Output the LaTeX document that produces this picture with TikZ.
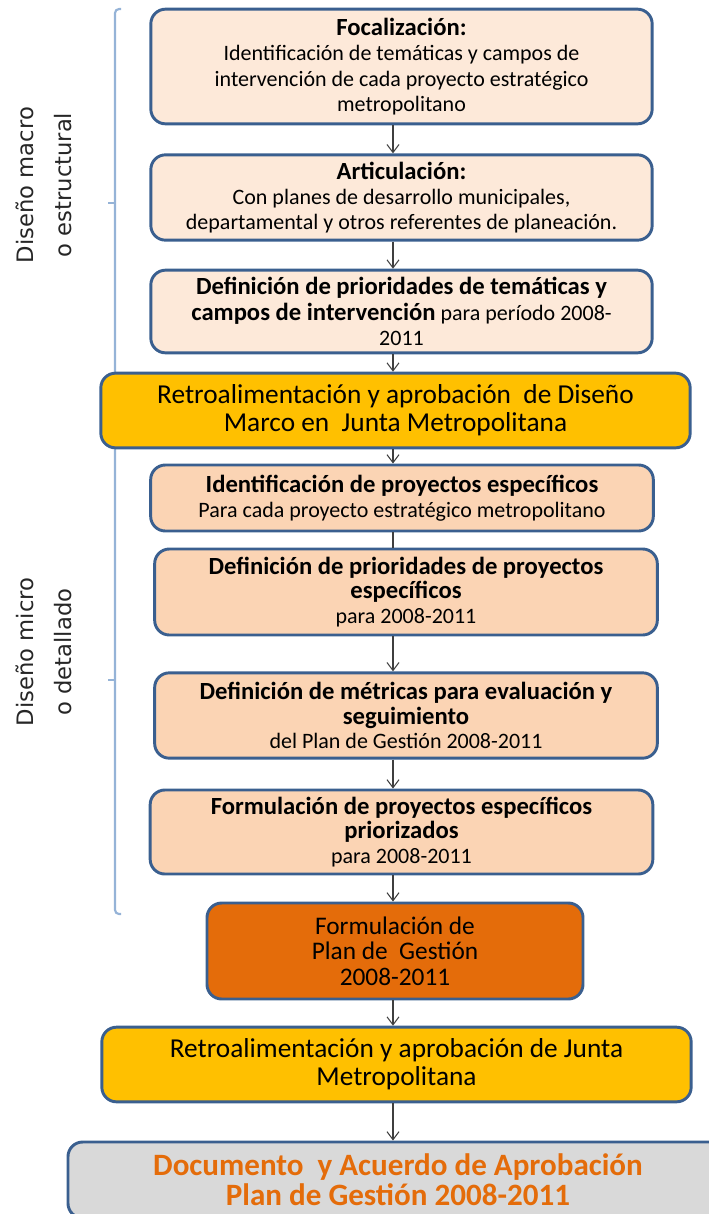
\documentclass[tikz,border=0pt]{standalone}
\usepackage{fontspec}
\setmainfont{Carlito}
\newfontfamily\ladofont{DejaVu Sans}
\usetikzlibrary{arrows.meta}
\definecolor{borde}{HTML}{3A5F8F}
\definecolor{pielclaro}{HTML}{FDE9D9}
\definecolor{piel}{HTML}{FBD4B4}
\definecolor{amarillo}{HTML}{FFC000}
\definecolor{naranja}{HTML}{E46C0A}
\definecolor{gris}{HTML}{D9D9D9}
\definecolor{llave}{HTML}{95B3D7}
\definecolor{flecha}{HTML}{3F3F3F}
\newcommand{\negrita}[1]{{\fontsize{18.5}{19}\selectfont\bfseries #1}}
\begin{document}
\begin{tikzpicture}[x=0.75pt,y=-0.75pt,
 caja/.style={draw=borde,line width=2.2pt,rounded corners=11pt,align=center,inner sep=0pt,text=black},
 fase/.style={caja,fill=pielclaro,minimum width=376pt,font=\fontsize{16.5}{19}\selectfont},
 paso/.style={caja,fill=piel,minimum width=377pt,font=\fontsize{16.5}{18.5}\selectfont},
 junta/.style={caja,fill=amarillo,minimum width=442pt,minimum height=56pt,font=\fontsize{20.5}{21}\selectfont},
 lado/.style={rotate=90,align=center,text=black!85,font=\ladofont\fontsize{17}{28}\selectfont},
 flechas/.style={draw=flecha,line width=0.8pt,-{Straight Barb[length=6pt,width=9pt]}}]
\useasboundingbox (0,0) rectangle (709,1214);
\clip (0,0) rectangle (709,1214);
\coordinate (eje) at (393,0);
\draw[llave,line width=1.6pt,rounded corners=3pt] (121,9) -- (115,9) -- (115,914) -- (121,914);
\draw[llave,line width=1.6pt] (108,203) -- (115,203);
\draw[llave,line width=1.6pt] (108,680) -- (115,680);
\node[lado] (macro) at (44,185) {Diseño macro\\o estructural};
\node[lado] (micro) at (44,652) {Diseño micro\\o detallado};
\node[fase,minimum height=86pt] (focal) at (401.5,66.5) {\negrita{Focalización:}\\Identificación de temáticas y campos de\\intervención de cada proyecto estratégico\\metropolitano};
\node[fase,minimum height=64pt] (artic) at (401.5,197.5) {\negrita{Articulación:}\\Con planes de desarrollo municipales,\\departamental y otros referentes de planeación.};
\node[fase,minimum height=62pt] (priotem) at (401.5,311.5) {\negrita{Definición de prioridades de temáticas y}\\\negrita{campos de intervención} para período 2008-\\2011};
\node[junta] (juntamarco) at (395.5,410.5) {Retroalimentación y aprobación\ \ de Diseño\\Marco en\ \ Junta Metropolitana};
\node[paso,minimum height=49.5pt] (identif) at (402,498) {\negrita{Identificación de proyectos específicos}\\Para cada proyecto estratégico metropolitano};
\node[paso,minimum height=64.5pt] (prioproy) at (406,592) {\negrita{Definición de prioridades de proyectos}\\\negrita{específicos}\\para 2008-2011};
\node[paso,minimum height=64pt] (metricas) at (406,715.5) {\negrita{Definición de métricas para evaluación y}\\\negrita{seguimiento}\\del Plan de Gestión 2008-2011};
\node[paso,minimum height=63pt] (formproy) at (401.5,832) {\negrita{Formulación de proyectos específicos}\\\negrita{priorizados}\\para 2008-2011};
\node[caja,fill=naranja,minimum width=282pt,minimum height=72pt,font=\fontsize{19}{19}\selectfont] (plan) at (395,951) {Formulación de\\Plan de\ \ Gestión\\2008-2011};
\node[junta] (juntafinal) at (396.5,1064.5) {Retroalimentación y aprobación de Junta\\Metropolitana};
\node[caja,fill=gris,minimum width=495pt,minimum height=57pt,text=naranja,font=\bfseries\fontsize{23.3}{22.5}\selectfont] (acuerdo) at (398,1180) {Documento\ \ y Acuerdo de Aprobación\\Plan de Gestión 2008-2011};
\draw[flechas] (focal.south -| eje) -- (artic.north -| eje);
\draw[flechas] (artic.south -| eje) -- (priotem.north -| eje);
\draw[flechas] (priotem.south -| eje) -- (juntamarco.north -| eje);
\draw[flechas] (juntamarco.south -| eje) -- (identif.north -| eje);
\draw[draw=flecha,line width=0.8pt] (identif.south -| eje) -- (prioproy.north -| eje);
\draw[flechas] (prioproy.south -| eje) -- (metricas.north -| eje);
\draw[flechas] (metricas.south -| eje) -- (formproy.north -| eje);
\draw[flechas] (formproy.south -| eje) -- (plan.north -| eje);
\draw[flechas] (plan.south -| eje) -- (juntafinal.north -| eje);
\draw[flechas] (juntafinal.south -| eje) -- (acuerdo.north -| eje);
\end{tikzpicture}
\end{document}
